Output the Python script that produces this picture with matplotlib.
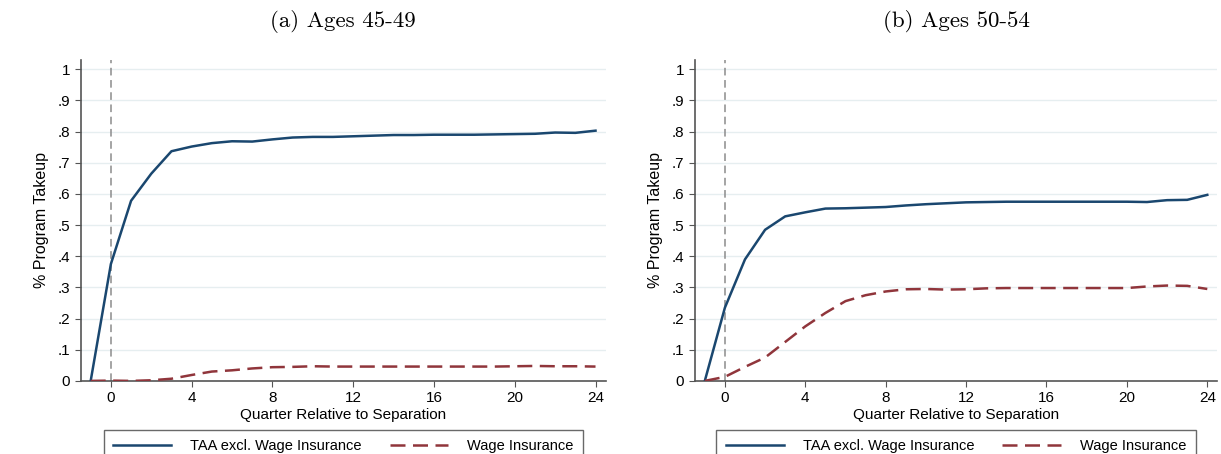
import numpy as np
import matplotlib.pyplot as plt

plt.rcParams['font.family'] = ['Liberation Sans', 'DejaVu Sans']

quarters = np.arange(-1, 25)

# ages 45-49
taa_4549 = [0.000, 0.375, 0.578, 0.665, 0.737, 0.752, 0.763, 0.769, 0.768, 0.775,
            0.781, 0.783, 0.783, 0.785, 0.787, 0.789, 0.789, 0.790, 0.790, 0.790,
            0.791, 0.792, 0.793, 0.797, 0.796, 0.803]
wi_4549 = [0.000, 0.001, 0.000, 0.002, 0.007, 0.019, 0.030, 0.034, 0.040, 0.044,
           0.045, 0.047, 0.046, 0.046, 0.046, 0.046, 0.046, 0.046, 0.046, 0.046,
           0.046, 0.047, 0.048, 0.047, 0.047, 0.046]

# ages 50-54
taa_5054 = [0.000, 0.235, 0.390, 0.485, 0.528, 0.541, 0.553, 0.554, 0.556, 0.558,
            0.563, 0.567, 0.570, 0.573, 0.574, 0.575, 0.575, 0.575, 0.575, 0.575,
            0.575, 0.575, 0.574, 0.580, 0.581, 0.597]
wi_5054 = [0.000, 0.013, 0.045, 0.075, 0.125, 0.175, 0.218, 0.256, 0.275, 0.287,
           0.294, 0.295, 0.293, 0.294, 0.297, 0.298, 0.298, 0.298, 0.298, 0.298,
           0.298, 0.298, 0.303, 0.306, 0.305, 0.295]

titles = ['(a) Ages 45-49', '(b) Ages 50-54']
yticks = np.arange(0, 1.01, 0.1)
ytick_labels = ['0', '.1', '.2', '.3', '.4', '.5', '.6', '.7', '.8', '.9', '1']
xticks = [0, 4, 8, 12, 16, 20, 24]

navy = '#1a476f'
maroon = '#90353b'

fig = plt.figure(figsize=(12.21, 4.54), dpi=100)
axes = [fig.add_axes([0.066, 0.161, 0.430, 0.707]),
        fig.add_axes([0.569, 0.161, 0.428, 0.707])]

for ax, title, taa, wi in zip(axes, titles, [taa_4549, taa_5054], [wi_4549, wi_5054]):
    for y in yticks[1:]:
        ax.axhline(y, color='#e6eef0', lw=1, zorder=0)
    ax.axvline(0, color='#8c8c8c', lw=1.1, ls=(0, (5, 3)), zorder=1)
    l1, = ax.plot(quarters, taa, color=navy, lw=1.8, label='TAA excl. Wage Insurance', zorder=3)
    l2, = ax.plot(quarters, wi, color=maroon, lw=1.8, ls=(0, (6, 3)), label='Wage Insurance', zorder=3)

    ax.set_xlim(-1.5, 24.5)
    ax.set_ylim(0, 1.03)
    ax.set_yticks(yticks)
    ax.set_yticklabels(ytick_labels)
    ax.set_xticks(xticks)
    ax.tick_params(axis='both', labelsize=11, length=4, color='#555555')
    for s in ['top', 'right']:
        ax.spines[s].set_visible(False)
    for s in ['left', 'bottom']:
        ax.spines[s].set_color('#555555')
        ax.spines[s].set_linewidth(1.2)
    ax.set_ylabel('% Program Takeup', fontsize=11.5, labelpad=6)
    ax.set_xlabel('Quarter Relative to Separation', fontsize=11, labelpad=2)
    ax.set_title(title, fontsize=16.5, family='cmr10', pad=24)

    # legend box runs off the bottom edge of the figure
    leg = ax.legend(handles=[l1, l2], ncol=2, loc='upper center',
                    bbox_to_anchor=(0.5, -0.153), borderaxespad=0,
                    fontsize=10.5, frameon=True, fancybox=False,
                    edgecolor='#444444', handlelength=4, handletextpad=1.3,
                    columnspacing=1.9, borderpad=0.65)
    leg.get_frame().set_linewidth(1.0)

fig.savefig('out.png', dpi=100)
